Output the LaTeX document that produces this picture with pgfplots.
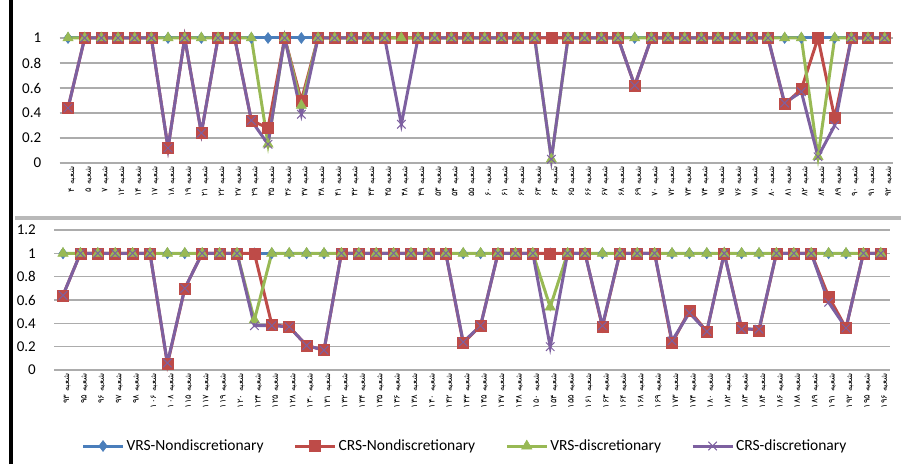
\documentclass[border=0pt]{standalone}
\usepackage{fontspec}
\setmainfont{Carlito}
\newfontfamily\arabicfont[Script=Arabic]{DejaVu Sans}
\TeXXeTstate=1
\usepackage{pgfplots}
\usepackage{pgfplotstable}
\pgfplotsset{compat=1.18}
\definecolor{cA}{HTML}{4A7EBB}
\definecolor{cB}{HTML}{BE4B48}
\definecolor{cC}{HTML}{98B954}
\definecolor{cD}{HTML}{7D60A0}
\newcommand\sh[1]{\beginR شعبه #1\endR}

\pgfplotstableread{
x a b c d
0 1 0.44 1 0.44
1 1 1 1 1
2 1 1 1 1
3 1 1 1 1
4 1 1 1 1
5 1 1 1 1
6 1 0.12 1 0.12
7 1 1 1 1
8 1 0.24 1 0.24
9 1 1 1 1
10 1 1 1 1
11 1 0.34 1 0.34
12 1 0.28 0.15 0.15
13 1 1 1 1
14 1 0.50 0.46 0.39
15 1 1 1 1
16 1 1 1 1
17 1 1 1 1
18 1 1 1 1
19 1 1 1 1
20 1 1 1 0.31
21 1 1 1 1
22 1 1 1 1
23 1 1 1 1
24 1 1 1 1
25 1 1 1 1
26 1 1 1 1
27 1 1 1 1
28 1 1 1 1
29 1 1 0.03 0.03
30 1 1 1 1
31 1 1 1 1
32 1 1 1 1
33 1 1 1 1
34 1 0.62 1 0.62
35 1 1 1 1
36 1 1 1 1
37 1 1 1 1
38 1 1 1 1
39 1 1 1 1
40 1 1 1 1
41 1 1 1 1
42 1 1 1 1
43 1 0.47 1 0.48
44 1 0.59 1 0.57
45 1 1 0.05 0.05
46 1 0.36 1 0.30
47 1 1 1 1
48 1 1 1 1
49 1 1 1 1
}\toptable

\pgfplotstableread{
x a b c d
0 1 0.64 1 0.64
1 1 1 1 1
2 1 1 1 1
3 1 1 1 1
4 1 1 1 1
5 1 1 1 1
6 1 0.05 1 0.06
7 1 0.70 1 0.70
8 1 1 1 1
9 1 1 1 1
10 1 1 1 1
11 1 1 0.43 0.38
12 1 0.39 1 0.38
13 1 0.37 1 0.37
14 1 0.21 1 0.21
15 1 0.17 1 0.17
16 1 1 1 1
17 1 1 1 1
18 1 1 1 1
19 1 1 1 1
20 1 1 1 1
21 1 1 1 1
22 1 1 1 1
23 1 0.23 1 0.24
24 1 0.38 1 0.38
25 1 1 1 1
26 1 1 1 1
27 1 1 1 1
28 1 1 0.54 0.20
29 1 1 1 1
30 1 1 1 1
31 1 0.37 1 0.38
32 1 1 1 1
33 1 1 1 1
34 1 1 1 1
35 1 0.23 1 0.25
36 1 0.51 1 0.49
37 1 0.33 1 0.33
38 1 1 1 1
39 1 0.36 1 0.35
40 1 0.34 1 0.35
41 1 1 1 1
42 1 1 1 1
43 1 1 1 1
44 1 0.63 1 0.58
45 1 0.36 1 0.36
46 1 1 1 1
47 1 1 1 1
}\bottable

\pgfplotsset{
  dea/.style={
    scale only axis, clip=false,
    axis line style={draw=none},
    major tick length=0pt,
    ymajorgrids, grid style={gray!65, line width=1.2pt},
    xmin=-0.5, ymin=0,
    /pgf/number format/assume math mode=true,
    tick label style={font=\fontsize{15}{17}\selectfont},
    yticklabel style={anchor=east, xshift=-15pt},
    xticklabel style={rotate=90, anchor=east, yshift=-4pt, font=\arabicfont\fontsize{8.5}{9}\selectfont},
    every axis plot/.append style={line width=3pt},
    legend image code/.code={
      \draw[mark repeat=2,mark phase=2,##1] plot coordinates {(0pt,0pt) (20pt,0pt) (40pt,0pt)};
    },
  },
  sA/.style={color=cA, mark=diamond*, mark size=5.5pt, mark options={line width=0.5pt}},
  sB/.style={color=cB, mark=square*, mark size=5.5pt, mark options={line width=0.5pt}},
  sC/.style={color=cC, mark=triangle*, mark size=6pt, mark options={line width=0.5pt}},
  sD/.style={color=cD, mark=x, mark size=6pt, mark options={line width=1pt}},
}

\begin{document}
\begin{tikzpicture}
\useasboundingbox (0,0) rectangle (901pt,464pt);
\draw[black, line width=4pt] (11pt,0) -- (11pt,464pt);
\draw[gray!55, line width=4pt] (15pt,246.5pt) -- (901pt,246.5pt);

\begin{axis}[dea,
  at={(59.7pt,301pt)}, anchor=south west,
  width=833.3pt, height=125pt,
  xmax=49.5, ymax=1,
  ytick={0,0.2,0.4,0.6,0.8,1},
  yticklabels={0,0.2,0.4,0.6,0.8,1},
  xtick={0,...,49},
  xticklabels={\sh{۴},\sh{۵},\sh{۷},\sh{۱۲},\sh{۱۴},\sh{۱۷},\sh{۱۸},\sh{۱۹},\sh{۲۱},\sh{۲۲},\sh{۲۷},\sh{۲۹},\sh{۳۵},\sh{۳۶},\sh{۳۷},\sh{۳۸},\sh{۴۱},\sh{۴۲},\sh{۴۳},\sh{۴۵},\sh{۴۸},\sh{۴۹},\sh{۵۳},\sh{۵۴},\sh{۵۵},\sh{۶۰},\sh{۶۱},\sh{۶۲},\sh{۶۳},\sh{۶۴},\sh{۶۵},\sh{۶۶},\sh{۶۷},\sh{۶۸},\sh{۶۹},\sh{۷۰},\sh{۷۲},\sh{۷۳},\sh{۷۴},\sh{۷۵},\sh{۷۶},\sh{۷۸},\sh{۸۰},\sh{۸۱},\sh{۸۲},\sh{۸۴},\sh{۸۹},\sh{۹۰},\sh{۹۱},\sh{۹۲}},
]
\addplot[sA] table[x=x,y=a] {\toptable};
\addplot[sB] table[x=x,y=b] {\toptable};
\addplot[sC] table[x=x,y=c] {\toptable};
\addplot[sD] table[x=x,y=d] {\toptable};
\end{axis}

\begin{axis}[dea,
  at={(54.3pt,94pt)}, anchor=south west,
  width=835.2pt, height=140pt,
  xmax=47.5, ymax=1.2,
  ytick={0,0.2,0.4,0.6,0.8,1,1.2},
  yticklabels={0,0.2,0.4,0.6,0.8,1,1.2},
  xtick={0,...,47},
  xticklabels={\sh{۹۳},\sh{۹۵},\sh{۹۶},\sh{۹۷},\sh{۹۸},\sh{۱۰۶},\sh{۱۰۸},\sh{۱۱۵},\sh{۱۱۷},\sh{۱۱۹},\sh{۱۲۰},\sh{۱۲۴},\sh{۱۲۵},\sh{۱۲۸},\sh{۱۳۰},\sh{۱۳۱},\sh{۱۳۲},\sh{۱۳۴},\sh{۱۳۵},\sh{۱۳۶},\sh{۱۳۸},\sh{۱۴۰},\sh{۱۴۲},\sh{۱۴۳},\sh{۱۴۵},\sh{۱۴۷},\sh{۱۴۸},\sh{۱۵۰},\sh{۱۵۴},\sh{۱۵۵},\sh{۱۶۱},\sh{۱۶۳},\sh{۱۶۴},\sh{۱۶۸},\sh{۱۶۹},\sh{۱۷۳},\sh{۱۷۴},\sh{۱۸۰},\sh{۱۸۲},\sh{۱۸۳},\sh{۱۸۴},\sh{۱۸۶},\sh{۱۸۸},\sh{۱۸۹},\sh{۱۹۱},\sh{۱۹۲},\sh{۱۹۵},\sh{۱۹۶}},
  legend style={at={(0.4917,-0.543)}, anchor=center, draw=none, fill=none,
    legend columns=4, font=\fontsize{15.5}{17}\selectfont,
    /tikz/every even column/.append style={column sep=28pt}},
  legend cell align=left,
]
\addplot[sA] table[x=x,y=a] {\bottable};
\addlegendentry{VRS-Nondiscretionary}
\addplot[sB] table[x=x,y=b] {\bottable};
\addlegendentry{CRS-Nondiscretionary}
\addplot[sC] table[x=x,y=c] {\bottable};
\addlegendentry{VRS-discretionary}
\addplot[sD] table[x=x,y=d] {\bottable};
\addlegendentry{CRS-discretionary}
\end{axis}
\end{tikzpicture}
\end{document}
